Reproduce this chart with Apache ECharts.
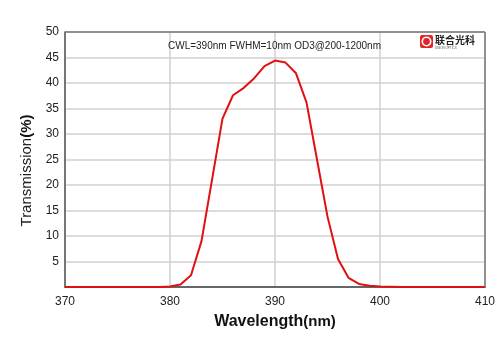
<!DOCTYPE html>
<html>
<head>
<meta charset="utf-8">
<script src="https://cdn.jsdelivr.net/npm/echarts@6/dist/echarts.min.js"></script>
<style>
html,body{margin:0;padding:0;background:#fff;}
#main{width:500px;height:353px;}
</style>
</head>
<body>
<div id="main"></div>
<script>
// wavelength (nm) and transmission (%)
var wavelengths = [370,371,372,373,374,375,376,377,378,379,380,381,382,383,384,385,386,387,388,389,390,391,392,393,394,395,396,397,398,399,400,401,402,403,404,405,406,407,408,409,410];
var transmission = [0,0,0,0,0,0,0,0,0,0,0.1,0.5,2.3,9.0,21,33,37.6,39,40.9,43.3,44.4,44,41.9,36.2,25,13.8,5.5,1.8,0.6,0.25,0.1,0.05,0,0,0,0,0,0,0,0,0];
var xTicks = [370,380,390,400,410];
var yTicks = [5,10,15,20,25,30,35,40,45,50];
var note = 'CWL=390nm FWHM=10nm OD3@200-1200nm';

var points = [];
for (var i = 0; i < wavelengths.length; i++) {
	points.push([wavelengths[i], transmission[i]]);
}

var chart = echarts.init(document.getElementById('main'));
chart.setOption({
	animation: false,
	grid: {left: 65, right: 15, top: 32, bottom: 66},
	xAxis: {
		type: 'value',
		min: 370,
		max: 410,
		interval: 10,
		name: '{a|Wavelength}{b|(nm)}',
		nameLocation: 'middle',
		nameGap: 27,
		nameTextStyle: {
			rich: {
				a: {fontFamily: 'Liberation Sans', fontSize: 16, fontWeight: 'bold', color: '#111'},
				b: {fontFamily: 'Liberation Sans', fontSize: 15, fontWeight: 'bold', color: '#111'}
			}
		},
		axisLine: {show: true, lineStyle: {color: '#666', width: 2}},
		axisTick: {show: false},
		axisLabel: {
			fontFamily: 'Liberation Sans',
			fontSize: 12,
			color: '#222',
			margin: 9,
			formatter: function(v){ return xTicks.indexOf(v) >= 0 ? v : ''; }
		},
		splitLine: {show: true, lineStyle: {color: '#d0d0d0', width: 1.5}}
	},
	yAxis: {
		type: 'value',
		min: 0,
		max: 50,
		interval: 5,
		name: '{a|Transmission}{b|(%)}',
		nameLocation: 'middle',
		nameGap: 26,
		nameTextStyle: {
			padding: [0, 22, 0, 0],
			rich: {
				a: {fontFamily: 'Liberation Sans', fontSize: 15, color: '#222'},
				b: {fontFamily: 'Liberation Sans', fontSize: 15, fontWeight: 'bold', color: '#111'}
			}
		},
		axisLine: {show: true, lineStyle: {color: '#555', width: 1.5}},
		axisTick: {show: false},
		axisLabel: {
			fontFamily: 'Liberation Sans',
			fontSize: 12,
			color: '#222',
			margin: 6,
			formatter: function(v){ return yTicks.indexOf(v) >= 0 ? v : ''; }
		},
		splitLine: {show: true, lineStyle: {color: '#d0d0d0', width: 1.5}}
	},
	graphic: [
		// top and right frame
		{type: 'line', shape: {x1: 65, y1: 32, x2: 485, y2: 32}, style: {stroke: '#777', lineWidth: 1.5}, z: 10},
		{type: 'line', shape: {x1: 485, y1: 32, x2: 485, y2: 287}, style: {stroke: '#777', lineWidth: 1.5}, z: 10},
		{type: 'text', left: 168, top: 41, style: {text: note, font: '10px "Liberation Sans"', fill: '#222'}, z: 10},
		{type: 'rect', shape: {x: 420, y: 35, width: 13, height: 13, r: 2}, style: {fill: '#e0262b'}, z: 10},
		{type: 'circle', shape: {cx: 426.5, cy: 41.5, r: 4.2}, style: {fill: 'none', stroke: '#fff', lineWidth: 1.6}, z: 11},
		{type: 'text', left: 435, top: 35, style: {text: '联合光科', font: 'bold 10px "Noto Sans CJK SC"', fill: '#222'}, z: 10},
		{type: 'text', left: 435, top: 47, style: {text: 'UNION OPTICS', font: '3px "Liberation Sans"', fill: '#555'}, z: 10}
	],
	series: [{
		type: 'line',
		data: points,
		symbol: 'none',
		lineStyle: {color: '#e01010', width: 2},
		z: 5
	}]
});
</script>
</body>
</html>
